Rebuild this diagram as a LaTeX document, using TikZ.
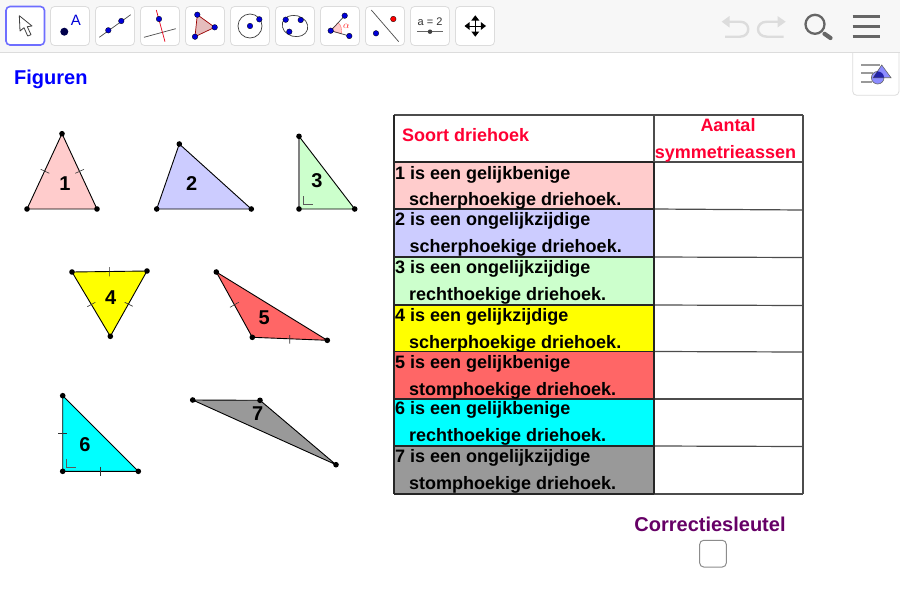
\documentclass[tikz,border=0pt]{standalone}
\usepackage{fontspec}
\setmainfont{Liberation Sans}
\definecolor{cPink}{HTML}{FFCCCC}
\definecolor{cLav}{HTML}{CCCCFF}
\definecolor{cGreen}{HTML}{CCFFCC}
\definecolor{cYel}{HTML}{FFFF00}
\definecolor{cRed}{HTML}{FF6666}
\definecolor{cCyan}{HTML}{00FFFF}
\definecolor{cGray}{HTML}{999999}
\definecolor{cHead}{HTML}{FF0033}
\definecolor{cPurple}{HTML}{660066}
\definecolor{cBar}{HTML}{F7F7F7}
\definecolor{cEdge}{HTML}{DCDCDC}
\definecolor{cIcon}{HTML}{666666}
\definecolor{cSel}{HTML}{6E6EFF}
\definecolor{cPt}{HTML}{0000D8}
\definecolor{cStyle}{HTML}{8C8CFF}
\tikzset{
  x=1pt,y=-1pt,
  tool/.style={draw=cEdge,fill=white,line width=.8pt,rounded corners=4pt},
  vtx/.style={circle,fill=black,inner sep=0pt,minimum size=5.6pt},
  bp/.style={circle,fill=cPt,draw=black,line width=.3pt,inner sep=0pt,minimum size=5.6pt},
  rp/.style={circle,fill=red,draw=black,line width=.3pt,inner sep=0pt,minimum size=5.6pt},
  tri/.style={draw=black,line width=.9pt,line join=round},
  tick/.style={draw=black!80,line width=.6pt},
  ang/.style={draw=black!65,line width=.9pt},
  num/.style={font=\bfseries\fontsize{20}{22}\selectfont,inner sep=0pt},
  rowtxt/.style={font=\bfseries\fontsize{18}{20}\selectfont,inner sep=0pt,anchor=base west,text=black},
  headtxt/.style={font=\bfseries\fontsize{18}{20}\selectfont,inner sep=0pt,text=cHead},
  grid/.style={draw=black!70,line width=1.2pt},
  ggrid/.style={draw=black!85,line width=1.2pt},
  undo/.style={draw=cEdge,line width=2.4pt},
}
\begin{document}
\begin{tikzpicture}
\useasboundingbox (0,0) rectangle (900,600);
\fill[white] (0,0) rectangle (900,600);
% toolbar
\fill[cBar] (0,0) rectangle (900,52);
\draw[cEdge,line width=1pt] (0,52.5) -- (900,52.5);
\draw[draw=cSel,fill=white,line width=1.6pt,rounded corners=4pt] (6,6.5) rectangle (44.5,45);
\foreach \x in {50.5,95.5,140.5,185.5,230.5,275.5,320.5,365.5,410.5,455.5}
  \draw[tool] (\x,6.5) rectangle ++(39,39);
% arrow tool
\draw[fill=white,draw=black!75,line width=.8pt,line join=round] (19.3,15.7) -- (20,31) -- (24,27.7) -- (27.7,36) -- (31,34.7) -- (27.3,26.7) -- (32,26) -- cycle;
% point tool
\node[circle,fill=black!70!blue,inner sep=0pt,minimum size=8pt] (pA) at (64.3,31.7) {};
\node[text=cPt,font=\fontsize{15}{15}\selectfont,inner sep=0pt] (lA) at (76,20.7) {A};
% line tool
\coordinate (l1) at (99.3,37.3); \coordinate (l2) at (130.7,14.7);
\draw[black!70,line width=.7pt] (l1) -- (l2);
\node[bp] (l3) at (108.3,30.3) {}; \node[bp] (l4) at (121.3,21) {};
% perpendicular tool
\coordinate (p1) at (156.3,10); \coordinate (p2) at (165,41.7);
\coordinate (p3) at (144,37.3); \coordinate (p4) at (175.7,28.7);
\draw[black!70,line width=.7pt] (p3) -- (p4);
\draw[red!90!blue,line width=.7pt] (p1) -- (p2);
\node[bp] (p5) at (159,19) {};
% polygon tool
\coordinate (g1) at (197.3,14.7); \coordinate (g2) at (214.7,27.3); \coordinate (g3) at (195,36.7);
\draw[fill=cPink!80!gray,draw=red!60!black,line width=.7pt] (g1) -- (g2) -- (g3) -- cycle;
\node[bp] at (g1) {}; \node[bp] at (g2) {}; \node[bp] at (g3) {};
% circle tool
\draw[black!75,line width=.7pt] (250,26) circle (12);
\node[bp] (c1) at (250,26) {}; \node[bp] (c2) at (259.3,19.3) {};
% ellipse tool
\draw[black!75,line width=.7pt,rotate around={-15:(295,26)}] (295,26) ellipse (13 and 10.5);
\node[bp] (e1) at (285.7,19.7) {}; \node[bp] (e2) at (289.3,31.7) {}; \node[bp] (e3) at (300.7,20) {};
% angle tool
\coordinate (a0) at (330.7,30.7); \coordinate (a1) at (344.7,15.7); \coordinate (a2) at (349.3,36);
\fill[cPink,draw=red!60,line width=.4pt] (a0) -- (338.2,22.7) .. controls (341,25) and (342,29) .. (341.3,33.7) -- cycle;
\draw[black!75,line width=.7pt] (a1) -- (a0) -- (a2);
\node[bp] at (a0) {}; \node[bp] at (a1) {}; \node[bp] at (a2) {};
\node[text=red!85,font=\fontsize{10}{10}\selectfont,inner sep=0pt] (al) at (346.3,26) {$\alpha$};
% mirror tool
\coordinate (m1) at (371.3,10); \coordinate (m2) at (398.7,41.7);
\draw[black!70,line width=.7pt] (m1) -- (m2);
\node[bp] (m3) at (376,33.3) {}; \node[rp] (m4) at (393.3,19) {};
% slider tool
\node[text=black!80,font=\fontsize{11}{11}\selectfont,inner sep=0pt] (s0) at (430,21.7) {a = 2};
\coordinate (s1) at (417.3,31.7); \coordinate (s2) at (442.7,31.7);
\draw[black!60,line width=.8pt] (s1) -- (s2);
\node[circle,fill=black!75,inner sep=0pt,minimum size=4.5pt] (s3) at (430,31.7) {};
% move tool
\draw[black,line width=.9pt] (466,26) -- (485,26) (475.3,16) -- (475.3,36);
\fill[black] (475.3,15.3) -- (471.3,20.5) -- (479.3,20.5) -- cycle
  (475.3,36.7) -- (471.3,31.5) -- (479.3,31.5) -- cycle
  (464.5,26) -- (469.7,22) -- (469.7,30) -- cycle
  (486,26) -- (480.8,22) -- (480.8,30) -- cycle;
% undo / redo
\fill[cEdge] (721.7,21.7) -- (729.5,16) -- (729.5,27.5) -- cycle;
\draw[undo] (728,21.7) -- (740,21.7) .. controls (751,21.7) and (751,36.7) .. (740,36.7) -- (725,36.7);
\fill[cEdge] (785.7,21.7) -- (777.5,16) -- (777.5,27.5) -- cycle;
\draw[undo] (779,21.7) -- (767,21.7) .. controls (755,21.7) and (755,36.7) .. (767,36.7) -- (783.5,36.7);
% search
\draw[cIcon,line width=2.3pt] (815,24.3) circle (9.5);
\draw[cIcon,line width=4.2pt,line cap=round] (824.5,33.8) -- (830.5,38);
% menu
\foreach \y in {16.7,26,36}
  \draw[cIcon,line width=3pt] (852.7,\y) -- (879.5,\y);
% style-bar panel
\draw[cEdge,line width=.8pt,fill=white,rounded corners=4pt] (852.7,53) -- (852.7,95.3) -- (899,95.3) -- (899,53);
\draw[gray!80,line width=1.8pt] (861,65.3) -- (880,65.3) (861,73.3) -- (873.3,73.3) (861,82.3) -- (871.7,82.3);
\draw[fill=cStyle,draw=black!60,line width=.6pt] (877.7,77.7) circle (6.3);
\draw[fill=cStyle,draw=black!60,line width=.6pt] (881.7,65) -- (891,77.7) -- (873.3,77.7) -- cycle;
\begin{scope}
\clip (877.7,77.7) circle (6.3);
\fill[blue!55!black,opacity=.75] (881.7,65) -- (891,77.7) -- (873.3,77.7) -- cycle;
\end{scope}
% title
\node[text=blue,font=\bfseries\fontsize{20}{22}\selectfont,inner sep=0pt,anchor=base west] (title) at (14,84) {Figuren};
% triangle 1
\coordinate (A1) at (62,133.7); \coordinate (B1) at (27,209); \coordinate (C1) at (97,209);
\draw[tri,fill=cPink] (A1) -- (B1) -- (C1) -- cycle;
\draw[tick] (40.7,169.3) -- (49.3,173.3) (75.3,173.3) -- (84,169.3);
\node[vtx] at (A1) {}; \node[vtx] at (B1) {}; \node[vtx] at (C1) {};
\node[num] (n1) at (65,183.3) {1};
% triangle 2
\coordinate (A2) at (179.3,144); \coordinate (B2) at (156.7,209); \coordinate (C2) at (251.3,209);
\draw[tri,fill=cLav] (A2) -- (B2) -- (C2) -- cycle;
\node[vtx] at (A2) {}; \node[vtx] at (B2) {}; \node[vtx] at (C2) {};
\node[num] (n2) at (191.7,183.3) {2};
% triangle 3
\coordinate (A3) at (299,136.3); \coordinate (B3) at (299,209); \coordinate (C3) at (354.7,209);
\draw[tri,fill=cGreen] (A3) -- (B3) -- (C3) -- cycle;
\draw[draw=black!50,line width=1.3pt] (A3) -- (B3);
\draw[ang] (303.3,196) -- (303.3,204.7) -- (313.3,204.7);
\node[vtx] at (A3) {}; \node[vtx] at (B3) {}; \node[vtx] at (C3) {};
\node[num] (n3) at (317,180.7) {3};
% triangle 4
\coordinate (A4) at (72,272); \coordinate (B4) at (147,271); \coordinate (C4) at (110.3,336.3);
\draw[tri,fill=cYel] (A4) -- (B4) -- (C4) -- cycle;
\draw[tick] (109.3,267) -- (109.3,276.3) (87.3,306.7) -- (95.3,302.3) (124.7,302.3) -- (132.7,306.3);
\node[vtx] at (A4) {}; \node[vtx] at (B4) {}; \node[vtx] at (C4) {};
\node[num] (n4) at (110.7,297.7) {4};
% triangle 5
\coordinate (A5) at (216.3,272); \coordinate (B5) at (252.3,337.3); \coordinate (C5) at (327.3,340.3);
\draw[tri,fill=cRed] (A5) -- (B5) -- (C5) -- cycle;
\draw[tick] (230,307.3) -- (238.7,302.3) (289.7,335) -- (289.7,343.7);
\node[vtx] at (A5) {}; \node[vtx] at (B5) {}; \node[vtx] at (C5) {};
\node[num] (n5) at (264.3,317.3) {5};
% triangle 6
\coordinate (A6) at (62.7,395.7); \coordinate (B6) at (62.7,471.3); \coordinate (C6) at (138.3,471.3);
\draw[tri,fill=cCyan] (A6) -- (B6) -- (C6) -- cycle;
\draw[tick] (58,433.3) -- (67.3,433.3) (100.3,466.7) -- (100.3,476);
\draw[ang] (66.3,458.7) -- (66.3,467.7) -- (76,467.7);
\node[vtx] at (A6) {}; \node[vtx] at (B6) {}; \node[vtx] at (C6) {};
\node[num] (n6) at (85,445) {6};
% triangle 7
\coordinate (A7) at (192.7,400); \coordinate (B7) at (260,400.3); \coordinate (C7) at (336,464.7);
\draw[tri,fill=cGray] (A7) -- (B7) -- (C7) -- cycle;
\node[vtx] at (A7) {}; \node[vtx] at (B7) {}; \node[vtx] at (C7) {};
\node[num] (n7) at (257.7,413.3) {7};
% table fills
\fill[cPink] (394,162.5) rectangle (654,209);
\fill[cLav] (394,209) rectangle (654,257);
\fill[cGreen] (394,257) rectangle (654,305);
\fill[cYel] (394,305) rectangle (654,351.5);
\fill[cRed] (394,351.5) rectangle (654,399);
\fill[cCyan] (394,399) rectangle (654,446);
\fill[cGray] (394,446) rectangle (654,494);
% table grid
\foreach \y in {162,209,257,305,351.5,399,446,494}
  \draw[ggrid] (394,\y) -- (654,\y);
\foreach \y/\z in {162/162,209/210,257/257.5,305/305.5,351.5/352,399/399,446/446.5,494/494}
  \draw[grid] (654,\y) -- (803,\z);
\draw[grid] (394,115) -- (803,115);
\draw[grid] (803,115) -- (803,494);
\draw[ggrid] (394,115) -- (394,494);
\draw[grid] (654,115) -- (654,162);
\draw[ggrid] (654,162) -- (654,494);
% table texts
\node[headtxt,anchor=base west] (h1) at (402,141) {Soort driehoek};
\node[headtxt,anchor=base] (h2) at (728,131) {Aantal};
\node[headtxt,anchor=base] (h3) at (725.5,158.3) {symmetrieassen};
\node[rowtxt] (r1a) at (395,179) {1 is een gelijkbenige};
\node[rowtxt] (r1b) at (409,205.7) {scherphoekige driehoek.};
\node[rowtxt] (r2a) at (395,225) {2 is een ongelijkzijdige};
\node[rowtxt] (r2b) at (409.5,252) {scherphoekige driehoek.};
\node[rowtxt] (r3a) at (395,273) {3 is een ongelijkzijdige};
\node[rowtxt] (r3b) at (409,300) {rechthoekige driehoek.};
\node[rowtxt] (r4a) at (395,321) {4 is een gelijkzijdige};
\node[rowtxt] (r4b) at (409,348) {scherphoekige driehoek.};
\node[rowtxt] (r5a) at (395,368) {5 is een gelijkbenige};
\node[rowtxt] (r5b) at (409,395) {stomphoekige driehoek.};
\node[rowtxt] (r6a) at (395,414) {6 is een gelijkbenige};
\node[rowtxt] (r6b) at (409,441) {rechthoekige driehoek.};
\node[rowtxt] (r7a) at (395,462) {7 is een ongelijkzijdige};
\node[rowtxt] (r7b) at (409,489) {stomphoekige driehoek.};
% answer key
\node[text=cPurple,font=\bfseries\fontsize{20}{22}\selectfont,inner sep=0pt,anchor=base] (key) at (710,531.7) {Correctiesleutel};
\draw[draw=black!45,fill=white,line width=1pt,rounded corners=4pt] (699.7,540.3) rectangle (726.3,567) node[midway,inner sep=0pt] (box) {};
\end{tikzpicture}
\end{document}
